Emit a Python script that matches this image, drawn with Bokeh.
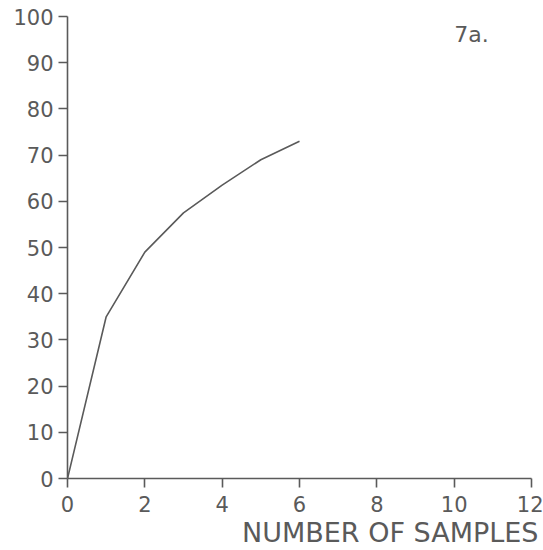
from bokeh.plotting import figure
from bokeh.models import Range1d, Label, FixedTicker, Title
from bokeh.embed import file_html
from bokeh.resources import INLINE

samples = [0, 1, 2, 3, 4, 5, 6]
values = [0, 35, 49, 57.5, 63.5, 69, 73]
x_ticks = [0, 2, 4, 6, 8, 10, 12]
y_ticks = [0, 10, 20, 30, 40, 50, 60, 70, 80, 90, 100]
x_title = "NUMBER OF SAMPLES"
panel_tag = "7a."

INK = "#5a5a5a"
FONT = "DejaVu Sans"

p = figure(width=543, height=550, output_backend="svg", toolbar_location=None,
           x_range=Range1d(0, 12), y_range=Range1d(0, 100),
           min_border_left=67, min_border_right=12, min_border_top=16, min_border_bottom=72)
p.outline_line_color = None
p.grid.visible = False
p.background_fill_color = "white"
p.border_fill_color = "white"

p.line(samples, values, line_color=INK, line_width=1.6)

for ax, ticks in ((p.xaxis, x_ticks), (p.yaxis, y_ticks)):
    ax.ticker = FixedTicker(ticks=ticks)
    ax.axis_line_color = INK
    ax.axis_line_width = 1.6
    ax.major_tick_line_color = INK
    ax.major_tick_line_width = 1.6
    ax.major_tick_out = 9
    ax.major_tick_in = 0
    ax.minor_tick_line_color = None
    ax.major_label_text_font = FONT
    ax.major_label_text_font_size = "21px"
    ax.major_label_text_color = INK

p.yaxis.major_label_standoff = 5
p.xaxis.major_label_standoff = 8

p.add_layout(Title(text=x_title, align="right", text_font=FONT, text_font_size="27px",
                   text_font_style="normal", text_color=INK, standoff=0, offset=-7), "below")

p.add_layout(Label(x=10, y=96, text=panel_tag, text_align="left",
                   text_baseline="alphabetic", text_font=FONT,
                   text_font_size="22px", text_color=INK))

open("out.html", "w").write(file_html(p, INLINE))
